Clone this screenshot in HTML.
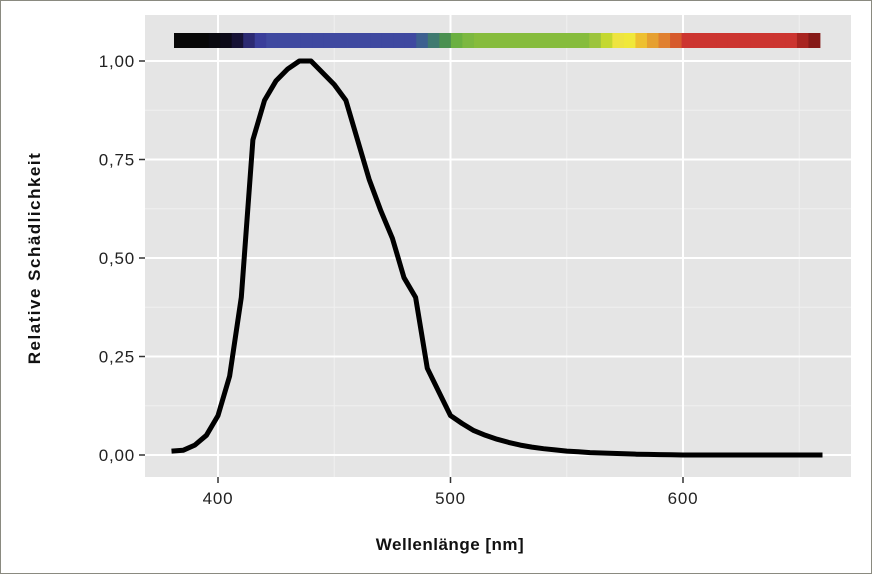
<!DOCTYPE html>
<html><head><meta charset="utf-8"><style>
html,body{margin:0;padding:0;background:#fff}
.f{position:absolute;left:0;top:0;width:870px;height:572px;border:1px solid #8a8a80}
</style></head><body>
<div class="f"></div>
<svg id="s" width="872" height="574" style="position:absolute;left:0;top:0" xmlns="http://www.w3.org/2000/svg" font-family="Liberation Sans, sans-serif"></svg>
<script>
var X=function(n){return 218+(n-400)*2.325};
var Y=function(v){return 455-v*394};
var h='';
h+='<rect x="145" y="15" width="706" height="462" fill="#e5e5e5"/>';
[0.125,0.375,0.625,0.875].forEach(function(v){h+='<line x1="145" x2="851" y1="'+Y(v)+'" y2="'+Y(v)+'" stroke="#f0f0f0" stroke-width="1"/>';});
[450,550,650].forEach(function(n){h+='<line y1="15" y2="477" x1="'+X(n)+'" x2="'+X(n)+'" stroke="#f0f0f0" stroke-width="1"/>';});
[0,0.25,0.5,0.75,1].forEach(function(v){h+='<line x1="145" x2="851" y1="'+Y(v)+'" y2="'+Y(v)+'" stroke="#fff" stroke-width="2"/>';
h+='<line x1="139" x2="145" y1="'+Y(v)+'" y2="'+Y(v)+'" stroke="#333" stroke-width="1.5"/>';
h+='<text x="135" y="'+(Y(v)+6)+'" text-anchor="end" font-size="17" letter-spacing="0.8" fill="#222">'+v.toFixed(2).replace('.',',')+'</text>';});
[400,500,600].forEach(function(n){h+='<line y1="15" y2="477" x1="'+X(n)+'" x2="'+X(n)+'" stroke="#fff" stroke-width="2"/>';
h+='<line y1="477" y2="483" x1="'+X(n)+'" x2="'+X(n)+'" stroke="#333" stroke-width="1.5"/>';
h+='<text x="'+X(n)+'" y="504" text-anchor="middle" font-size="17" letter-spacing="0.8" fill="#222">'+n+'</text>';});
var c=['#080808','#080808','#080808','#0a0a10','#0c0a18','#161235','#2c2a72','#3a3e9a'];
for(var i=8;i<21;i++)c.push('#3f49a0');
c=c.concat(['#3d6090','#3f7a70','#4a9050','#6ab040','#7cb840']);
for(i=26;i<36;i++)c.push('#86bc3c');
c=c.concat(['#9cc43c','#c4d830','#eee440','#f0e83a','#eec030','#e6a030','#e08030','#d65a2c']);
for(i=44;i<54;i++)c.push('#cc3530');
c=c.concat(['#a82420','#861a18']);
var w=(820-174)/56;
c.forEach(function(col,i){h+='<rect x="'+(174+i*w)+'" y="33" width="'+(w+0.4)+'" height="15" fill="'+col+'"/>';});
var d=[.01,.012,.025,.05,.1,.2,.4,.8,.9,.95,.98,1,1,.97,.94,.9,.8,.7,.62,.55,.45,.4,.22,.16,.1,.08,.062,.05,.04,.032,.025,.02,.016,.013,.01,.008,.006,.005,.004,.003,.002,.0015,.001,.0005,0,0,0,0,0,0,0,0,0,0,0,0,0];
var p=d.map(function(v,i){return X(380+i*5).toFixed(1)+','+Y(v).toFixed(1)}).join(' ');
h+='<polyline points="'+p+'" fill="none" stroke="#000" stroke-width="5" stroke-linejoin="round"/>';
h+='<text x="450" y="550" text-anchor="middle" font-size="17" letter-spacing="0.5" font-weight="bold" fill="#111">Wellenlänge [nm]</text>';
h+='<text transform="translate(40,258) rotate(-90)" text-anchor="middle" font-size="17" letter-spacing="1.5" font-weight="bold" fill="#111">Relative Schädlichkeit</text>';
document.getElementById('s').innerHTML=h;
</script>
</body></html>
